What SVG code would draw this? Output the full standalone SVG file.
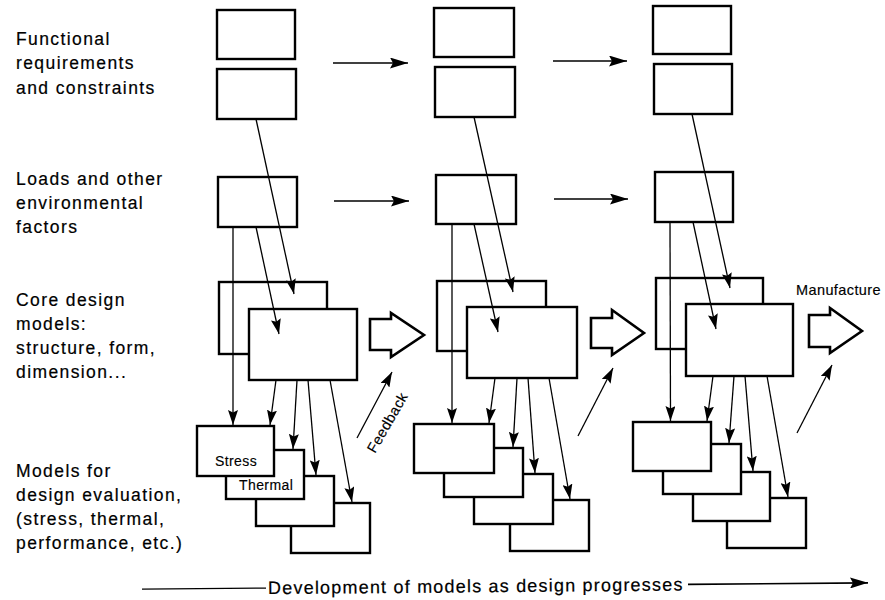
<svg xmlns="http://www.w3.org/2000/svg" width="885" height="600" viewBox="0 0 885 600">
<style>
.bx{fill:#fff;stroke:#000;stroke-width:2.4}
.ln{fill:none;stroke:#000;stroke-width:1.3;marker-end:url(#ah)}
.hl{fill:none;stroke:#000;stroke-width:1.7;marker-end:url(#ahb)}
.ho{fill:#fff;stroke:#000;stroke-width:2.6;stroke-linejoin:miter}
.lb{font-family:"Liberation Sans",Arial,sans-serif;font-size:17.5px;letter-spacing:1.4px;fill:#000;stroke:#000;stroke-width:0.2}
.nt{font-family:"Liberation Sans",Arial,sans-serif;font-size:14px;letter-spacing:0.4px;fill:#000;stroke:#000;stroke-width:0.15}
</style>
<defs>
<marker id="ah" viewBox="0 0 15 10" markerWidth="15" markerHeight="10" refX="15" refY="5" orient="auto" markerUnits="userSpaceOnUse"><path d="M0,0 L15,5 L0,10 L2.5,5 z" fill="#000"/></marker>
<marker id="ahb" viewBox="0 0 18 11" markerWidth="18" markerHeight="11" refX="18" refY="5.5" orient="auto" markerUnits="userSpaceOnUse"><path d="M0,0 L18,5.5 L0,11 L3,5.5 z" fill="#000"/></marker>
</defs>
<rect width="885" height="600" fill="#fff"/>

<g id="labels">
<text class="lb" x="16" y="45">Functional</text>
<text class="lb" x="16" y="69">requirements</text>
<text class="lb" x="16" y="94">and constraints</text>
<text class="lb" x="16" y="185">Loads and other</text>
<text class="lb" x="16" y="209">environmental</text>
<text class="lb" x="16" y="233">factors</text>
<text class="lb" x="16" y="306">Core design</text>
<text class="lb" x="16" y="330">models:</text>
<text class="lb" x="16" y="354">structure, form,</text>
<text class="lb" x="16" y="378">dimension...</text>
<text class="lb" x="16" y="477">Models for</text>
<text class="lb" x="16" y="501">design evaluation,</text>
<text class="lb" x="16" y="525">(stress, thermal,</text>
<text class="lb" x="16" y="549">performance, etc.)</text>
</g>

<!-- Column 1 -->
<g id="c1-func1"><rect class="bx" x="217" y="10" width="78" height="49"/></g>
<g id="c1-func2"><rect class="bx" x="217" y="69" width="79" height="50"/></g>
<g id="c1-loads"><rect class="bx" x="218" y="177" width="79" height="50"/></g>
<g id="c1-core-back"><rect class="bx" x="219" y="282" width="108" height="72"/></g>
<g id="c1-core-front"><rect class="bx" x="249" y="309" width="108" height="71"/></g>
<g id="c1-eval4"><rect class="bx" x="291" y="503" width="79" height="50"/></g>
<g id="c1-eval3"><rect class="bx" x="256" y="476" width="78" height="50"/></g>
<g id="c1-thermal"><rect class="bx" x="226" y="450" width="78" height="49"/><text class="nt" x="239" y="490">Thermal</text></g>
<g id="c1-stress"><rect class="bx" x="197" y="426" width="77" height="50"/><text class="nt" x="215" y="466">Stress</text></g>
<g id="c1-out"><path class="ho" d="M370,319 L391,319 L391,313 L424,335 L391,357 L391,350 L370,350 Z"/></g>

<!-- Column 2 -->
<g id="c2-func1"><rect class="bx" x="434" y="8" width="80" height="49"/></g>
<g id="c2-func2"><rect class="bx" x="435" y="67" width="80" height="50"/></g>
<g id="c2-loads"><rect class="bx" x="436" y="175" width="80" height="49"/></g>
<g id="c2-core-back"><rect class="bx" x="437" y="281" width="109" height="70"/></g>
<g id="c2-core-front"><rect class="bx" x="467" y="307" width="110" height="71"/></g>
<g id="c2-eval4"><rect class="bx" x="510" y="500" width="79" height="51"/></g>
<g id="c2-eval3"><rect class="bx" x="474" y="474" width="79" height="50"/></g>
<g id="c2-eval2"><rect class="bx" x="444" y="448" width="79" height="49"/></g>
<g id="c2-eval1"><rect class="bx" x="414" y="424" width="80" height="49"/></g>
<g id="c2-out"><path class="ho" d="M591,318 L612,318 L612,310 L644,333 L612,355 L612,348 L591,348 Z"/></g>

<!-- Column 3 -->
<g id="c3-func1"><rect class="bx" x="653" y="6" width="78" height="48"/></g>
<g id="c3-func2"><rect class="bx" x="654" y="64" width="78" height="50"/></g>
<g id="c3-loads"><rect class="bx" x="655" y="172" width="78" height="50"/></g>
<g id="c3-core-back"><rect class="bx" x="656" y="278" width="107" height="71"/></g>
<g id="c3-core-front"><rect class="bx" x="686" y="304" width="107" height="72"/></g>
<g id="c3-eval4"><rect class="bx" x="727" y="498" width="79" height="50"/></g>
<g id="c3-eval3"><rect class="bx" x="693" y="472" width="77" height="49"/></g>
<g id="c3-eval2"><rect class="bx" x="663" y="444" width="78" height="50"/></g>
<g id="c3-eval1"><rect class="bx" x="633" y="422" width="78" height="49"/></g>
<g id="c3-out"><path class="ho" d="M809,315 L830,315 L830,308 L862,331 L830,353 L830,347 L809,347 Z"/><text class="nt" x="796" y="295" style="font-size:14.5px">Manufacture</text></g>

<g id="connectors">
<!-- column 1 -->
<line class="hl" x1="333" y1="63" x2="408" y2="63"/>
<line class="hl" x1="334" y1="201" x2="409" y2="201"/>
<line class="ln" x1="256" y1="119" x2="294" y2="294"/>
<line class="ln" x1="233" y1="227" x2="233" y2="425"/>
<line class="ln" x1="256" y1="227" x2="279" y2="334"/>
<line class="ln" x1="276" y1="380" x2="270" y2="425"/>
<line class="ln" x1="297" y1="380" x2="293" y2="449"/>
<line class="ln" x1="308" y1="380" x2="316" y2="475"/>
<line class="ln" x1="330" y1="380" x2="352" y2="502"/>
<line class="ln" x1="357" y1="438" x2="392" y2="372"/>
<text class="nt" x="375" y="454" transform="rotate(-60 375 454)" style="font-size:14.5px">Feedback</text>
<!-- column 2 -->
<line class="hl" x1="553" y1="61" x2="627" y2="61"/>
<line class="hl" x1="554" y1="199" x2="628" y2="199"/>
<line class="ln" x1="474" y1="117" x2="513" y2="292"/>
<line class="ln" x1="452" y1="224" x2="452" y2="423"/>
<line class="ln" x1="474" y1="224" x2="498" y2="332"/>
<line class="ln" x1="495" y1="378" x2="489" y2="423"/>
<line class="ln" x1="517" y1="378" x2="513" y2="447"/>
<line class="ln" x1="528" y1="378" x2="535" y2="473"/>
<line class="ln" x1="549" y1="378" x2="570" y2="499"/>
<line class="ln" x1="578" y1="436" x2="613" y2="368"/>
<!-- column 3 -->
<line class="ln" x1="692" y1="114" x2="730" y2="288"/>
<line class="ln" x1="670" y1="222" x2="670.5" y2="421"/>
<line class="ln" x1="693" y1="222" x2="716" y2="329"/>
<line class="ln" x1="713" y1="376" x2="707" y2="421"/>
<line class="ln" x1="734" y1="376" x2="729" y2="443"/>
<line class="ln" x1="745" y1="376" x2="753" y2="471"/>
<line class="ln" x1="767" y1="376" x2="788" y2="497"/>
<line class="ln" x1="797" y1="433" x2="832" y2="365"/>
<!-- development axis -->
<g transform="rotate(-0.5 505 586)">
<line x1="142" y1="586" x2="266" y2="586" stroke="#000" stroke-width="1.3"/>
<text class="lb" x="268" y="592" style="font-size:18px;letter-spacing:1.2px">Development of models as design progresses</text>
<line class="hl" x1="688" y1="586" x2="868" y2="586"/>
</g>
</g>
</svg>
